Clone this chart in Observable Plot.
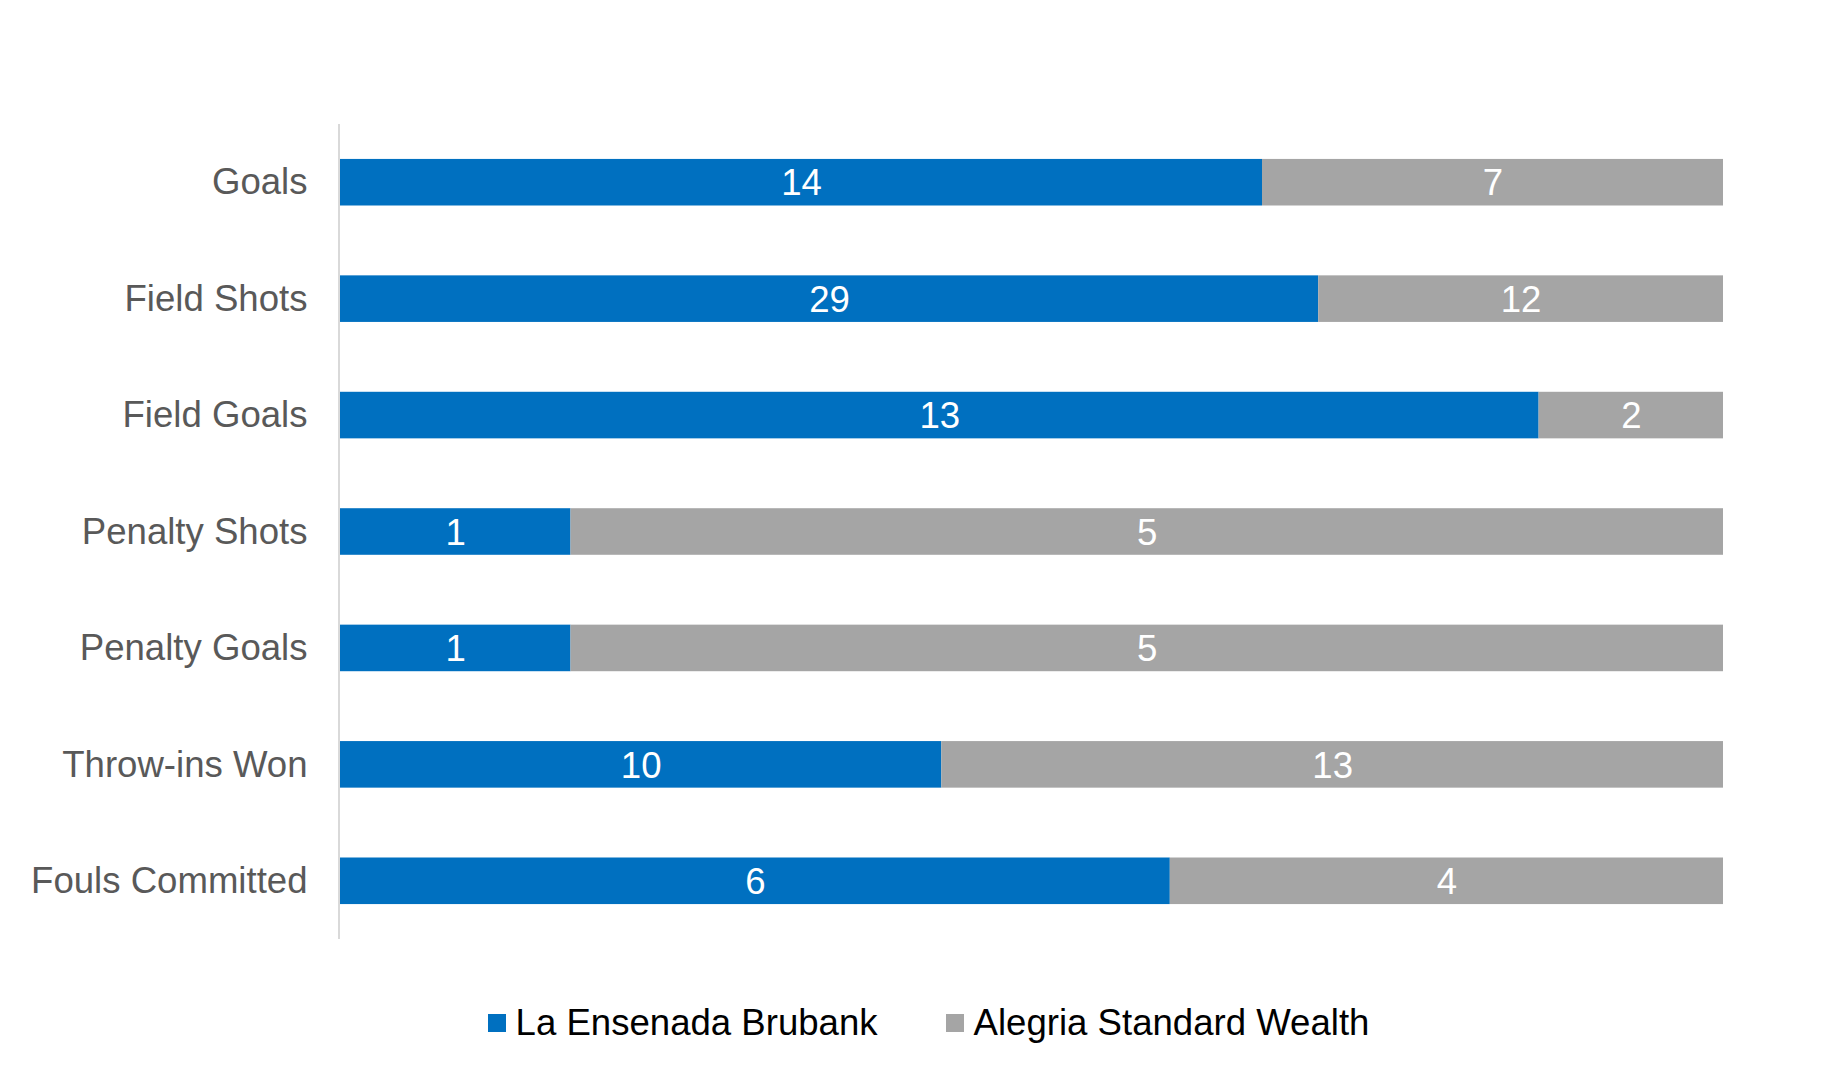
<!DOCTYPE html>
<html>
<head>
<meta charset="utf-8">
<script src="https://cdn.jsdelivr.net/npm/d3@7"></script>
<script src="https://cdn.jsdelivr.net/npm/@observablehq/plot@0.6"></script>
<style>
  html, body { margin: 0; padding: 0; background: #fff; }
  body { width: 1844px; height: 1085px; overflow: hidden; font-family: "Liberation Sans", Arial, sans-serif; }
  #legend { display: flex; justify-content: center; align-items: center; height: 66px; margin-left: 13px; font-size: 36.6px; color: #000; }
  .item { display: flex; align-items: center; }
  .sw { width: 18px; height: 18px; margin-right: 10px; }
  .gap { width: 68px; }
</style>
</head>
<body>
<div id="chart"></div>
<div id="legend"></div>
<script>
const categories = ["Goals", "Field Shots", "Field Goals", "Penalty Shots", "Penalty Goals", "Throw-ins Won", "Fouls Committed"];
const teams = ["La Ensenada Brubank", "Alegria Standard Wealth"];
const laEnsenada = [14, 29, 13, 1, 1, 10, 6];
const alegria = [7, 12, 2, 5, 5, 13, 4];
const colors = ["#0070C0", "#A5A5A5"];

const data = [];
categories.forEach((c, i) => data.push({cat: c, team: teams[0], value: laEnsenada[i]}));
categories.forEach((c, i) => data.push({cat: c, team: teams[1], value: alegria[i]}));

const stackOpts = {x: "value", y: "cat", z: "team", offset: "normalize"};

const plot = Plot.plot({
  width: 1844,
  height: 990,
  marginTop: 124,
  marginBottom: 51,
  marginLeft: 340,
  marginRight: 121,
  style: {fontFamily: "'Liberation Sans', Arial, sans-serif", background: "#fff"},
  x: {domain: [0, 1], axis: null},
  y: {domain: categories, paddingInner: 0.6, paddingOuter: 0.3, round: false, label: null},
  color: {domain: teams, range: colors},
  marks: [
    Plot.barX(data, Plot.stackX({...stackOpts, fill: "team"})),
    Plot.text(data, Plot.stackX({...stackOpts, text: "value", fill: "white", fontSize: 36.6, dy: 1})),
    Plot.ruleX([0], {stroke: "#d9d9d9", strokeWidth: 2, dx: -1.5}),
    Plot.axisY({tickSize: 0, tickPadding: 33, fontSize: 36.6, color: "#595959", label: null})
  ]
});
document.getElementById("chart").appendChild(plot);

const legend = document.getElementById("legend");
teams.forEach((t, i) => {
  if (i > 0) { const g = document.createElement("div"); g.className = "gap"; legend.appendChild(g); }
  const item = document.createElement("div");
  item.className = "item";
  const sw = document.createElement("div");
  sw.className = "sw";
  sw.style.background = colors[i];
  const label = document.createElement("span");
  label.textContent = t;
  item.appendChild(sw);
  item.appendChild(label);
  legend.appendChild(item);
});
</script>
</body>
</html>
